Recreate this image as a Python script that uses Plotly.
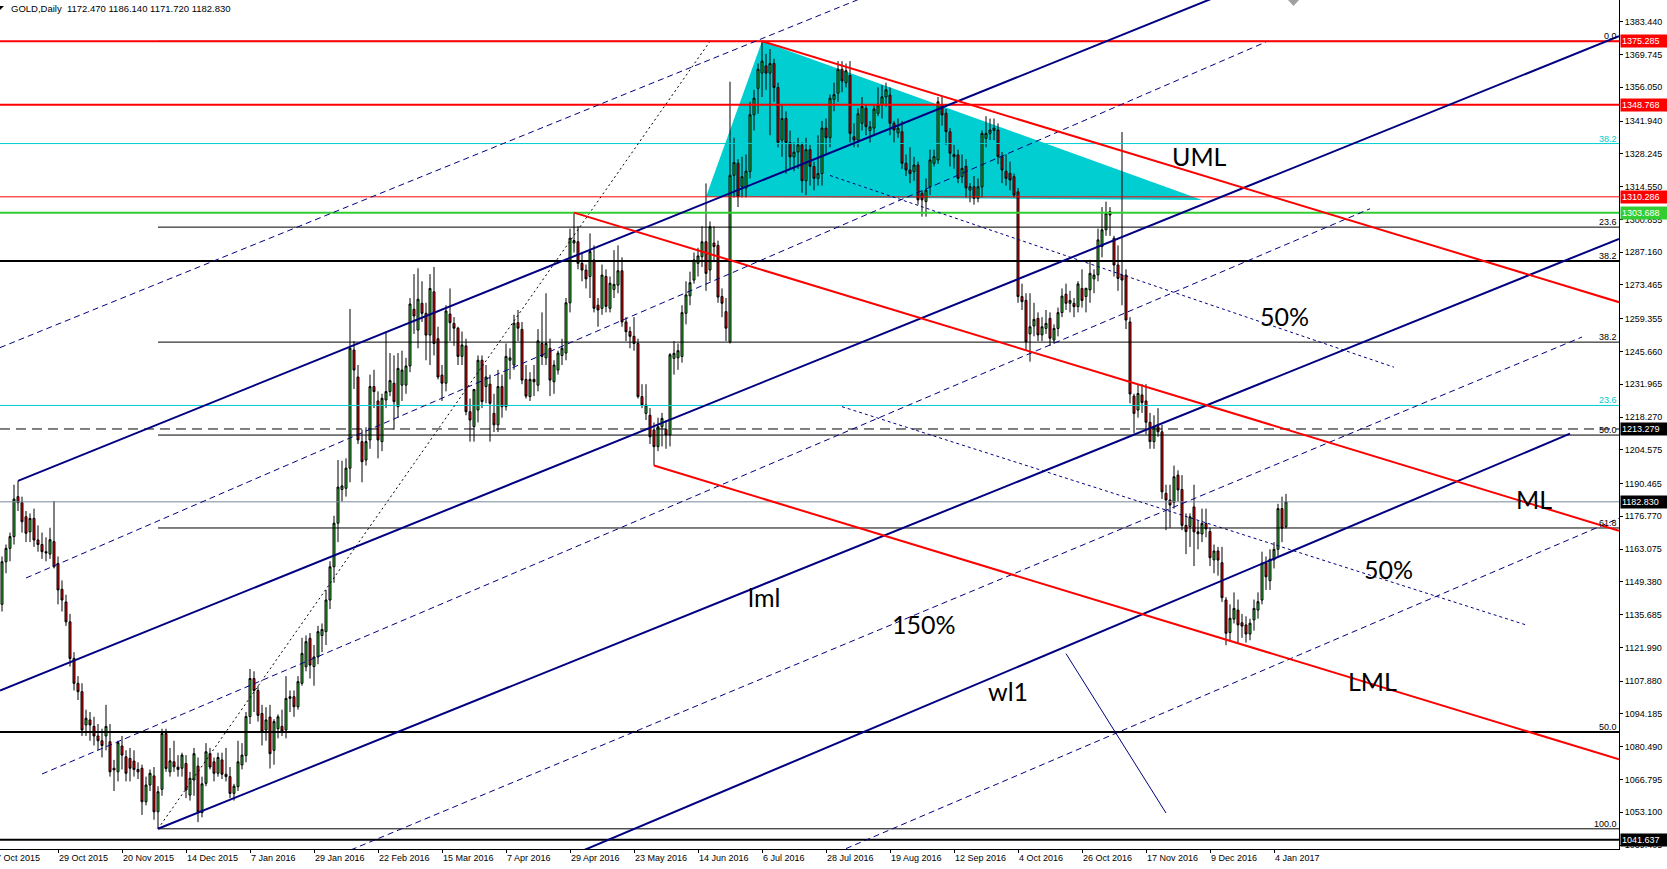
import pandas as pd
import plotly.graph_objects as go

# ---------------------------------------------------------------- data
first_day, last_axis_day = "2015-10-09", "2017-06-30"
market_holidays = ["2015-12-25", "2016-01-01", "2016-03-25", "2016-12-26", "2017-01-02"]

# daily GOLD candles, 9 Oct 2015 .. 9 Jan 2017
open_ = [
    1140, 1157.8, 1163.4, 1168.3, 1185, 1182.5, 1176.6, 1170.3, 1175.9, 1166.9,
    1165, 1162, 1161, 1166.2, 1157.1, 1146.3, 1141, 1132.7, 1117.4, 1107,
    1103.5, 1089.6, 1091.7, 1089, 1085, 1083, 1085, 1082.6, 1071.5, 1070,
    1080.8, 1076.3, 1075.6, 1074.5, 1071, 1071.5, 1057.5, 1064.5, 1068.3, 1053.3,
    1062.7, 1086, 1070, 1074.2, 1072, 1071.5, 1073.5, 1060.3, 1066.6, 1072.4,
    1053, 1065.2, 1077.6, 1074.2, 1069.4, 1075, 1069, 1068, 1061, 1063.8,
    1072.9, 1076.8, 1093.1, 1109, 1104, 1094.4, 1087.5, 1092.9, 1079, 1088,
    1089, 1087.5, 1100.7, 1101.4, 1097.2, 1107, 1113.9, 1125.8, 1114, 1118,
    1127, 1128.6, 1141.8, 1155.7, 1173.9, 1188, 1188.5, 1196.9, 1246.3, 1235,
    1208, 1200.3, 1208.7, 1231, 1225, 1208, 1225.4, 1228.9, 1232.4, 1222.6,
    1231.6, 1231.6, 1239.6, 1263.3, 1254.6, 1265.8, 1261.6, 1252.5, 1270.6, 1251,
    1235.8, 1232.4, 1261.3, 1257.4, 1255.4, 1243.6, 1248, 1220.5, 1214.3, 1221.2,
    1242, 1231, 1232, 1219.8, 1215, 1231, 1222.6, 1242, 1240, 1257.7,
    1254.9, 1234, 1226.8, 1234, 1231.6, 1249, 1243, 1247, 1233, 1237.9,
    1244, 1245, 1266, 1291, 1291.5, 1282.5, 1279.7, 1277, 1283.9, 1265,
    1263.7, 1277, 1263.7, 1271.6, 1273.4, 1279.4, 1258, 1254, 1252, 1249,
    1226.8, 1219.8, 1219, 1212.9, 1205.9, 1214.2, 1213.1, 1210.8, 1242.8, 1243,
    1243.6, 1261.6, 1268.9, 1275.5, 1282.5, 1285.3, 1291.5, 1279.7, 1291, 1290,
    1268.6, 1262.3, 1249.7, 1319.3, 1324.3, 1314.5, 1314, 1320.9, 1344.6, 1355.6,
    1362, 1365, 1362, 1366, 1356, 1334, 1343, 1333, 1327, 1329,
    1332, 1317, 1330, 1323, 1318, 1320, 1339, 1335, 1351, 1353.6,
    1363.6, 1358, 1361, 1335.4, 1334, 1341, 1347.3, 1338, 1339, 1345.2,
    1348.7, 1352, 1352.8, 1341, 1337, 1337.5, 1324.3, 1321.5, 1320.8, 1323.6,
    1311.8, 1308.3, 1314.5, 1324.3, 1325.7, 1348.7, 1345.2, 1337.5, 1327, 1327.8,
    1318.7, 1323, 1313.1, 1314.5, 1309.7, 1314.5, 1334.7, 1336.8, 1338, 1338.2,
    1327.1, 1321, 1320.1, 1318.7, 1312.4, 1268.6, 1267, 1253, 1256.3, 1259.5,
    1252.6, 1255.3, 1259.5, 1250.5, 1255.3, 1261.9, 1269.6, 1265.8, 1265.8, 1264.4,
    1272, 1268.6, 1271.4, 1276, 1277.7, 1289.5, 1296.5, 1304.1, 1293, 1281.8,
    1277.6, 1277.6, 1258, 1227, 1221.2, 1227.5, 1225, 1216.1, 1208, 1214.2,
    1212.1, 1186.4, 1183.6, 1182.6, 1194, 1188, 1173, 1172.5, 1180.7, 1170.3,
    1169.4, 1173.8, 1170.4, 1158.6, 1162.3, 1157.4, 1141.8, 1128.2, 1133.8, 1137.6,
    1132.3, 1131.4, 1127.6, 1133.5, 1137.6, 1141.8, 1157.2, 1149.9, 1158.6, 1163,
    1180, 1172.47,
]
high = [
    1160, 1165, 1170, 1190, 1191.6, 1185, 1179, 1178, 1180, 1173,
    1170, 1168, 1172, 1183.2, 1160, 1150, 1144, 1136, 1120, 1110,
    1107, 1096, 1095, 1093, 1090, 1088, 1098, 1090, 1075, 1083,
    1085, 1079, 1080, 1079, 1074, 1073, 1068, 1071, 1072, 1064,
    1088, 1088, 1080, 1083, 1077, 1078, 1077, 1070, 1080, 1076,
    1068, 1082, 1080, 1076, 1078, 1078, 1080, 1072, 1065, 1083,
    1082, 1095, 1113, 1112, 1106, 1098, 1097, 1098, 1092, 1094,
    1096, 1110, 1104, 1104, 1110, 1126, 1127, 1128, 1123, 1131,
    1132, 1146, 1158, 1177, 1200.3, 1200, 1201, 1263.4, 1250, 1240,
    1213, 1214, 1236, 1238, 1229, 1228, 1254, 1245, 1244, 1245,
    1246, 1243, 1268, 1278, 1280.4, 1275, 1266, 1278, 1281, 1256,
    1240, 1265, 1272, 1260, 1256, 1254, 1251, 1226, 1230, 1244,
    1244, 1240, 1236, 1228, 1238, 1236, 1249, 1247, 1261, 1263,
    1258, 1240, 1237, 1240, 1255, 1262, 1270, 1251, 1242, 1246,
    1251, 1268, 1297, 1303.688, 1298, 1287, 1282, 1295, 1290, 1268,
    1282, 1280, 1277, 1288, 1290, 1285, 1260, 1256, 1260, 1251,
    1232, 1232, 1222, 1216, 1218, 1220, 1217, 1245, 1250, 1249,
    1265, 1275, 1279, 1287, 1289, 1298, 1315.9, 1300, 1298, 1292,
    1272, 1268, 1358.4, 1335, 1326, 1327, 1328, 1350, 1355, 1366,
    1375.285, 1370, 1372, 1368, 1358, 1349, 1346, 1338, 1333, 1335,
    1333, 1335, 1332, 1325, 1336, 1342, 1343, 1353, 1358, 1367,
    1367, 1366, 1367, 1341, 1347.3, 1352, 1349, 1342, 1349, 1356,
    1357, 1358, 1356, 1342, 1343, 1342, 1328, 1331, 1327, 1325,
    1313, 1318, 1330, 1330, 1352, 1352, 1347, 1339, 1332, 1330,
    1328, 1326, 1316, 1319, 1318, 1338, 1344, 1343, 1343, 1341,
    1329, 1328, 1325, 1320, 1314, 1274, 1270, 1270, 1266, 1262,
    1260, 1263, 1262, 1257, 1264, 1272, 1274, 1271, 1268, 1275,
    1280, 1272, 1284, 1280, 1297, 1306, 1308.3, 1306, 1294, 1290,
    1337.4, 1280, 1260, 1228, 1232, 1232, 1232, 1220, 1219, 1222,
    1215, 1190, 1190, 1198, 1196, 1194, 1178, 1178, 1190, 1175,
    1180, 1180, 1172, 1165, 1164, 1164, 1143, 1140, 1145, 1142,
    1136, 1135, 1134, 1142, 1145, 1162, 1160, 1163, 1166, 1182,
    1185, 1186.14,
]
low = [
    1137, 1153, 1158, 1165, 1179, 1170, 1166, 1166, 1164, 1162,
    1159, 1158, 1159, 1155, 1140, 1137, 1131, 1114, 1104, 1100,
    1085, 1085, 1083, 1081, 1079, 1076, 1079, 1068, 1062, 1066,
    1071, 1066, 1066, 1068, 1067, 1052, 1056, 1062, 1050, 1046.2,
    1060, 1070, 1068, 1070, 1068, 1068, 1059, 1058, 1060, 1049,
    1051, 1064, 1071, 1066, 1068, 1067, 1066, 1059, 1058, 1062,
    1071, 1074, 1090, 1095, 1091, 1081, 1083, 1071.4, 1073, 1084,
    1085, 1084, 1095, 1093, 1096, 1106, 1112, 1109, 1106, 1115,
    1120, 1123, 1138, 1149, 1166, 1183, 1185, 1191, 1230, 1207,
    1191, 1198, 1205, 1222, 1201, 1204, 1222, 1227, 1213, 1218,
    1225, 1228, 1237, 1253, 1247, 1258, 1242, 1240, 1244, 1234,
    1225, 1229, 1250, 1248, 1240, 1240, 1219, 1208, 1208, 1216,
    1222, 1224, 1208, 1212, 1212, 1218, 1221, 1234, 1238, 1250,
    1232, 1226, 1225, 1227, 1229, 1240, 1240, 1227, 1228, 1236,
    1240, 1242, 1262, 1287, 1280, 1275, 1272, 1268, 1262, 1256,
    1261, 1262, 1262, 1268, 1270, 1256, 1250, 1247, 1246, 1226,
    1222, 1217, 1207, 1198, 1204, 1206, 1205, 1206, 1236, 1238,
    1241, 1257, 1265, 1274, 1277, 1281, 1271, 1275, 1283, 1266,
    1260, 1250, 1249, 1310, 1306, 1310, 1310, 1318, 1338, 1345,
    1352, 1355, 1336, 1350, 1331, 1327, 1320, 1322, 1321, 1322,
    1312, 1311, 1315, 1313, 1315, 1315, 1328, 1331, 1346, 1350,
    1354, 1356, 1333, 1331, 1331, 1338, 1336, 1333, 1336, 1344,
    1343, 1348, 1336, 1333, 1335, 1322, 1319, 1316, 1317, 1307,
    1302, 1302, 1311, 1323, 1324, 1340, 1332, 1323, 1322, 1316,
    1316, 1310, 1308, 1307, 1308, 1310, 1331, 1334, 1334, 1324,
    1316, 1315, 1313, 1310, 1266, 1263, 1246.3, 1241.4, 1252, 1250,
    1250, 1253, 1248, 1249, 1252, 1260, 1263, 1262, 1260, 1262,
    1264, 1262, 1266, 1270, 1275, 1285, 1294, 1294, 1277, 1271,
    1265, 1255, 1224, 1211.5, 1218, 1220, 1211, 1205, 1205, 1210,
    1184, 1171, 1172, 1180, 1183, 1171, 1161, 1164, 1156, 1163,
    1166, 1168, 1156, 1153, 1152, 1141, 1122.9, 1125, 1132, 1124,
    1126, 1124, 1125, 1129, 1134, 1140, 1146, 1146, 1155, 1160,
    1166, 1171.72,
]
close = [
    1157.8, 1163.4, 1168.3, 1184, 1182.5, 1174.5, 1169.7, 1175.9, 1166.9, 1165,
    1162, 1161.5, 1167, 1155.7, 1146, 1141.8, 1132.7, 1117.4, 1107, 1103.5,
    1087.5, 1092.4, 1089.6, 1085, 1083, 1081, 1089, 1070, 1070.8, 1082.2,
    1077, 1069.4, 1071.5, 1071, 1070, 1057.5, 1064.5, 1069.4, 1053.3, 1061.7,
    1086, 1071.4, 1074.6, 1072.1, 1071, 1077, 1062.4, 1067.3, 1077.6, 1053.3,
    1065, 1078.4, 1072, 1069.4, 1076, 1069, 1068, 1061, 1064, 1074.2,
    1077, 1093.1, 1109, 1104, 1093.6, 1086.8, 1091.7, 1077.6, 1091, 1093,
    1087, 1100.7, 1101.4, 1097.2, 1107.7, 1119.5, 1124.4, 1114.6, 1118, 1128.6,
    1129.5, 1141.8, 1155.7, 1173.9, 1189, 1189.5, 1196.9, 1247, 1237.9, 1208.7,
    1199.6, 1208, 1231, 1228.9, 1208.7, 1226.1, 1228.9, 1233.5, 1224.7, 1238.6,
    1237.9, 1239.6, 1265.5, 1260.5, 1267.5, 1261.6, 1252.5, 1272, 1249, 1235,
    1232.4, 1262.6, 1257.7, 1255.4, 1243.6, 1248.4, 1220.5, 1217, 1229.8, 1242,
    1224.7, 1235, 1224, 1215, 1231, 1222.6, 1243.6, 1243, 1257.5, 1255.4,
    1233.7, 1227, 1234, 1233, 1250.1, 1243.6, 1249, 1233.7, 1240, 1245,
    1247, 1266, 1293, 1292, 1282.5, 1279.7, 1276, 1287.4, 1263.7, 1263,
    1277.6, 1264.5, 1274.2, 1273.7, 1279.4, 1258, 1253.9, 1252, 1249, 1226.8,
    1223.3, 1223.3, 1210, 1205.9, 1214.2, 1217.7, 1210.8, 1244.3, 1244.9, 1246,
    1261.9, 1269.3, 1274.4, 1283.9, 1285.6, 1291.5, 1278.3, 1297.8, 1289.5, 1268.4,
    1265.8, 1255.4, 1319.3, 1324.6, 1310.3, 1318.7, 1321, 1344.6, 1351.5, 1363.6,
    1367, 1362, 1366, 1356, 1333, 1343, 1333, 1327, 1329, 1332,
    1317, 1330, 1323, 1318, 1320, 1339, 1335, 1351.5, 1353, 1363.6,
    1358.7, 1363, 1336.8, 1334, 1345, 1348, 1339.6, 1339.5, 1347, 1348.7,
    1352.1, 1355, 1341, 1338.2, 1339, 1324.3, 1321.5, 1320, 1323.6, 1309,
    1309, 1313.1, 1325.7, 1327.1, 1350, 1344.5, 1337.5, 1328.5, 1328, 1318,
    1322.2, 1314, 1314.5, 1309.7, 1314.5, 1336.8, 1336.8, 1338.2, 1339, 1327.1,
    1321.5, 1318, 1317.3, 1311, 1268.6, 1266.5, 1249.7, 1256, 1259.1, 1252.6,
    1256, 1257.4, 1251.2, 1255.3, 1261.9, 1268.8, 1265.8, 1267, 1264.4, 1273.9,
    1267, 1272.1, 1278.3, 1277.6, 1292.3, 1296.5, 1303.4, 1302.7, 1281.8, 1276.2,
    1275.5, 1258.8, 1227.9, 1219.8, 1228.1, 1224.3, 1216.1, 1208, 1214.2, 1212.1,
    1187, 1183.6, 1181.5, 1193.3, 1187.8, 1173, 1170.4, 1176.6, 1170.3, 1169.5,
    1173.8, 1171.5, 1159.5, 1162.3, 1158.5, 1142.8, 1127.9, 1134.2, 1138.3, 1131.4,
    1130.9, 1127.6, 1132.1, 1138.3, 1141.1, 1157.2, 1151.5, 1158.8, 1163, 1180,
    1171.8, 1182.83,
]

date_ticks = ["29 Oct 2015", "20 Nov 2015", "14 Dec 2015", "7 Jan 2016", "29 Jan 2016",
              "22 Feb 2016", "15 Mar 2016", "7 Apr 2016", "29 Apr 2016", "23 May 2016",
              "14 Jun 2016", "6 Jul 2016", "28 Jul 2016", "19 Aug 2016", "12 Sep 2016",
              "4 Oct 2016", "26 Oct 2016", "17 Nov 2016", "9 Dec 2016", "4 Jan 2017"]
price_ticks = [1383.440, 1369.745, 1356.050, 1341.940, 1328.245, 1314.550, 1300.855,
               1287.160, 1273.465, 1259.355, 1245.660, 1231.965, 1218.270, 1204.575,
               1190.465, 1176.770, 1163.075, 1149.380, 1135.685, 1121.990, 1107.880,
               1094.185, 1080.490, 1066.795, 1053.100, 1039.405]

# horizontal lines with their price tags
red_levels = [1375.285, 1348.768, 1310.286]
green_level = 1303.688
dashed_level = 1213.279
bid_level = 1182.830
support_level = 1041.637

# Fibonacci retracements
fib_low, fib_high = ("2015-12-03", 1046.2), ("2016-06-17", 1375.285)
fib_ratios = [0.0, 23.6, 38.2, 50.0, 61.8, 100.0]
cyan_fib_range = (1795.8, 1046.2)
cyan_fib_ratios = [23.6, 38.2, 100.0]
long_fib_range = (1920.8, 252.5)
long_fib_ratios = [38.2, 50.0]

# red Andrews pitchfork
fork_p1 = ("2016-05-02", 1303.688)
fork_p2 = ("2016-07-06", 1375.285)
fork_p3 = ("2016-05-30", 1198.0)

# blue channel
blue_upper = [("2015-10-15", 1191.6), ("2016-06-01", 1300.3)]
blue_median = [("2015-10-29", 1113.8), ("2016-06-01", 1215.8)]
blue_lower = [("2015-12-03", 1046.2), ("2016-06-01", 1131.25)]
blue_wl1 = [("2016-10-26", 1125.2), ("2017-01-06", 1160.5)]
wl1_end = "2017-04-18"

blue_dash_1 = [("2015-10-29", 1257.1), ("2016-05-11", 1349.3)]
blue_dash_2 = [("2015-10-19", 1151.0), ("2016-12-30", 1375.0)]
blue_dash_3 = [("2015-10-23", 1069.1), ("2017-02-07", 1305.3)]
blue_dash_4 = [("2016-02-22", 1042.1), ("2017-04-21", 1251.7)]
blue_dash_5 = [("2016-08-02", 1036.5), ("2016-12-07", 1101.5)]
half_upper = [("2016-07-29", 1319.2), ("2017-02-15", 1239.1)]
half_lower = [("2016-08-03", 1222.6), ("2017-04-03", 1131.4)]
short_line = [("2016-10-20", 1119.4), ("2016-11-24", 1052.8)]

triangle = [("2016-07-06", 1375.285), ("2016-06-16", 1310.286), ("2016-12-07", 1309.0)]

labels = ["UML", "50%", "ML", "50%", "lml", "150%", "wl1", "LML"]
label_dates = ["2016-11-25", "2016-12-28", "2017-03-29", "2017-02-03",
               "2016-06-30", "2016-08-19", "2016-09-22", "2017-01-30"]
label_prices = [1327.4, 1260.5, 1184.0, 1154.8, 1143.1, 1131.8, 1103.8, 1107.9]

# ---------------------------------------------------------------- build
NAVY, RED, GREEN, CYAN = "#000080", "#FF0000", "#32CD32", "#00CED1"
FONT = "Liberation Sans"
W, H, PLOT_W, PLOT_H = 1667, 869, 1619, 849
X_LO, X_HI = -0.5, 404.25

days = pd.bdate_range(first_day, last_axis_day)
days = days[~days.isin(pd.to_datetime(market_holidays))]
bar = {d.strftime("%Y-%m-%d"): i for i, d in enumerate(days)}


def ray(a, b, start=None, end=None):
    x1, y1 = bar[a[0]], a[1]
    x2, y2 = bar[b[0]], b[1]
    k = (y2 - y1) / (x2 - x1)
    xa = X_LO if start == "edge" else (bar[start] if start else x1)
    xb = X_HI if end == "edge" else (bar[end] if end else x2)
    return [xa, xb], [y1 + k * (xa - x1), y1 + k * (xb - x1)]


fig = go.Figure()


def add_line(xs, ys, color, width=1, dash="solid"):
    fig.add_trace(go.Scatter(x=xs, y=ys, mode="lines", hoverinfo="skip",
                             line=dict(color=color, width=width, dash=dash)))


# cyan triangle sits behind the candles
tri = [(bar[d], p) for d, p in triangle]
fig.add_shape(type="path", layer="below", line_width=0, fillcolor=CYAN,
              path="M {} {} L {} {} L {} {} Z".format(*[v for pt in tri for v in pt]))

fig.add_trace(go.Candlestick(
    x=list(range(len(close))), open=open_, high=high, low=low, close=close,
    increasing=dict(fillcolor=GREEN, line=dict(color="black", width=1)),
    decreasing=dict(fillcolor=RED, line=dict(color="black", width=1)),
    whiskerwidth=0, hoverinfo="skip"))

# long-term and cyan fib levels (full width)
for r in cyan_fib_ratios:
    lvl = cyan_fib_range[1] + (cyan_fib_range[0] - cyan_fib_range[1]) * r / 100
    add_line([X_LO, X_HI], [lvl, lvl], CYAN)
for r in long_fib_ratios:
    lvl = long_fib_range[0] - (long_fib_range[0] - long_fib_range[1]) * r / 100
    add_line([X_LO, X_HI], [lvl, lvl], "black", 2)

# fib of the Dec-2015 low -> Jul-2016 high
fib_x0 = bar[fib_low[0]]
fib_levels = [fib_high[1] - (fib_high[1] - fib_low[1]) * r / 100 for r in fib_ratios]
for lvl in fib_levels:
    add_line([fib_x0, X_HI], [lvl, lvl], "black")
add_line([fib_x0, bar[fib_high[0]]], [fib_low[1], fib_high[1]], "black", 1, "2px,3px")

# horizontal lines
for lvl in red_levels:
    add_line([X_LO, X_HI], [lvl, lvl], RED, 1 if lvl == red_levels[2] else 2)
add_line([X_LO, X_HI], [green_level] * 2, GREEN, 2)
add_line([X_LO, X_HI], [dashed_level] * 2, "black", 1, "10px,6px")
add_line([X_LO, X_HI], [bid_level] * 2, "#778899", 1)
add_line([X_LO, X_HI], [support_level] * 2, "black", 2)

# blue channel
add_line(*ray(*blue_upper, end="edge"), NAVY, 2)
add_line(*ray(*blue_median, start="edge", end="edge"), NAVY, 2)
add_line(*ray(*blue_lower, end="edge"), NAVY, 2)
add_line(*ray(*blue_wl1, start="edge", end=wl1_end), NAVY, 2)
add_line(*ray(*blue_dash_1, start="edge", end="edge"), NAVY, 1, "6px,4px")
add_line(*ray(*blue_dash_2), NAVY, 1, "6px,4px")
add_line(*ray(*blue_dash_3), NAVY, 1, "6px,4px")
add_line(*ray(*blue_dash_4, start="edge"), NAVY, 1, "6px,4px")
add_line(*ray(*blue_dash_5, start="edge", end="edge"), NAVY, 1, "6px,4px")
add_line(*ray(*half_upper), NAVY, 1, "3px,3px")
add_line(*ray(*half_lower), NAVY, 1, "3px,3px")
add_line(*ray(*short_line), NAVY, 1)

# red pitchfork
x1, y1 = bar[fork_p1[0]], fork_p1[1]
x2, y2 = bar[fork_p2[0]], fork_p2[1]
x3, y3 = bar[fork_p3[0]], fork_p3[1]
k = ((y2 + y3) / 2 - y1) / ((x2 + x3) / 2 - x1)
for xs, ys in [(x1, y1), (x2, y2), (x3, y3)]:
    add_line([xs, X_HI], [ys, ys + k * (X_HI - xs)], RED, 2)

# ---------------------------------------------------------------- texts
ann = []
for t, d, p in zip(labels, label_dates, label_prices):
    ann.append(dict(x=bar[d], y=p, text=t, xanchor="left", yanchor="middle", showarrow=False,
                    font=dict(family="Lato", size=25, color="black")))

small = dict(family=FONT, size=9, color="black")
for r, lvl in zip(fib_ratios, fib_levels):
    ann.append(dict(xref="paper", x=1, y=lvl, text=f"{r:.1f}", xanchor="right", yanchor="bottom",
                    showarrow=False, font=small, yshift=-2))
for r in cyan_fib_ratios[:2]:
    lvl = cyan_fib_range[1] + (cyan_fib_range[0] - cyan_fib_range[1]) * r / 100
    ann.append(dict(xref="paper", x=1, y=lvl, text=f"{r:.1f}", xanchor="right", yanchor="bottom",
                    showarrow=False, font=dict(small, color=CYAN), yshift=-2))
for r in long_fib_ratios:
    lvl = long_fib_range[0] - (long_fib_range[0] - long_fib_range[1]) * r / 100
    ann.append(dict(xref="paper", x=1, y=lvl, text=f"{r:.1f}", xanchor="right", yanchor="bottom",
                    showarrow=False, font=small, yshift=-2))

tags = [(red_levels[0], RED), (red_levels[1], RED), (red_levels[2], RED),
        (green_level, GREEN), (dashed_level, "black"), (bid_level, "black"),
        (support_level, "black")]
for lvl, col in tags:
    ann.append(dict(xref="paper", x=1, y=lvl, text=f"{lvl:.3f}", xanchor="left", yanchor="middle",
                    xshift=1, showarrow=False, bgcolor=col, borderpad=1, width=44, align="left",
                    font=dict(family=FONT, size=9, color="white")))

ann.append(dict(xref="paper", yref="paper", x=9 / PLOT_W, y=1 - 8.5 / PLOT_H, xanchor="left",
                yanchor="middle", showarrow=False, font=dict(small, size=9.5),
                text="GOLD,Daily  1172.470 1186.140 1171.720 1182.830"))
ann.append(dict(xref="paper", yref="paper", x=-6 / PLOT_W, y=-2 / PLOT_H, xanchor="left",
                yanchor="top", showarrow=False, font=small, text="7 Oct 2015"))

shapes = [
    dict(type="path", xref="paper", yref="paper", fillcolor="black", line_width=0,
         path=f"M 0 {1 - 6 / PLOT_H} L {4 / PLOT_W} {1 - 6 / PLOT_H} L 0 {1 - 10 / PLOT_H} Z"),
    dict(type="path", xref="paper", yref="paper", fillcolor="#A0A0A0", line_width=0,
         path=f"M {1288 / PLOT_W} 1 L {1299 / PLOT_W} 1 L {1293.5 / PLOT_W} {1 - 6 / PLOT_H} Z"),
]
for s in shapes:
    fig.add_shape(s)

fig.update_layout(
    width=W, height=H, margin=dict(l=0, r=W - PLOT_W, t=0, b=H - PLOT_H),
    paper_bgcolor="white", plot_bgcolor="white", showlegend=False,
    font=dict(family=FONT, size=9, color="black"),
    annotations=ann,
    xaxis=dict(range=[X_LO, X_HI], rangeslider=dict(visible=False),
               tickvals=[bar[pd.to_datetime(t, format="%d %b %Y").strftime("%Y-%m-%d")] for t in date_ticks],
               ticktext=date_ticks, ticks="outside", ticklen=3, tickcolor="black",
               ticklabelposition="outside right", tickfont=small,
               showline=True, linecolor="black", linewidth=1, mirror=True,
               showgrid=False, zeroline=False),
    yaxis=dict(range=[1037.76, 1392.54], side="right",
               tickvals=price_ticks, ticktext=[f"{v:.3f}" for v in price_ticks],
               ticks="outside", ticklen=3, tickcolor="black", tickfont=small,
               showline=True, linecolor="black", linewidth=1, mirror=True,
               showgrid=False, zeroline=False),
)

# the page must not add its own 8px body margin around the figure
fig.write_html("out.html", config={"displayModeBar": False},
               post_script="document.body.style.margin='0';document.body.style.overflow='hidden';")
